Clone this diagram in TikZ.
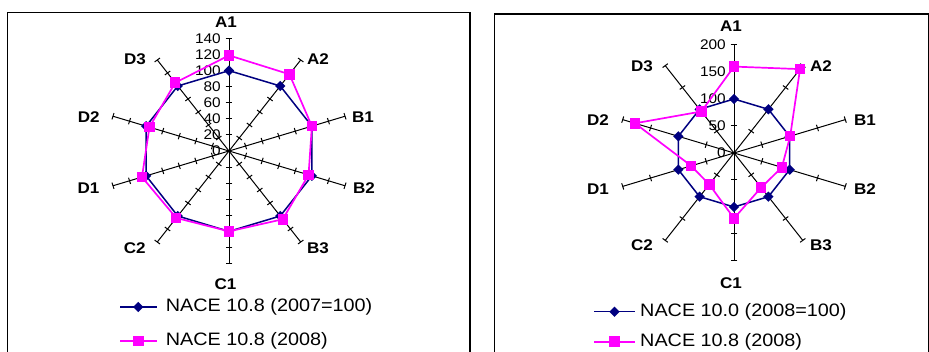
\documentclass[tikz,border=0pt]{standalone}
\usepackage{fontspec}
\setmainfont[FakeStretch=1.1]{Liberation Sans}
\usetikzlibrary{shapes.geometric}
\definecolor{navyline}{RGB}{0,0,128}
\definecolor{pinkline}{RGB}{255,0,255}
\begin{document}
\begin{tikzpicture}[x=1pt,y=1pt,
  axis/.style={black,line width=1pt},
  frame/.style={black,line width=1.3pt},
  base/.style={navyline,line width=1.5pt,line join=round},
  cur/.style={pinkline,line width=1.7pt,line join=round},
  dmark/.style={diamond,fill=navyline,inner sep=0pt,minimum width=10.5pt,minimum height=10.5pt},
  smark/.style={rectangle,fill=pinkline,inner sep=0pt,minimum size=10.5pt},
  axlbl/.style={font=\fontsize{15.5}{15.5}\selectfont\bfseries,inner sep=0pt},
  numlbl/.style={font=\fontsize{14}{14}\selectfont,anchor=east,inner sep=0pt,xshift=-8pt},
  leglbl/.style={font=\fontsize{18}{18}\selectfont,anchor=west,inner sep=0pt}]
\useasboundingbox (0,0) rectangle (929,351);

% frames
\draw[frame] (7.3,-5) -- (7.3,338.7) -- (470,338.7) -- (470,-5);
\draw[frame] (494.3,-5) -- (494.3,337) -- (928.5,337) -- (928.5,-5);

% left chart
\begin{scope}[shift={(229,200)},x=0.8714pt,y=0.8036pt]
\foreach \a in {90,54,...,-234}{
  \draw[axis] (0,0) -- (\a:140);
  \foreach \r in {20,40,...,140}
    \draw[axis] (\a:\r) ++(\a+90:3.3pt) -- ++(\a-90:6.6pt);
}
\foreach \v in {0,20,...,140}
  \node[numlbl] (lnum\v) at (0,\v) {\v};
\draw[base] (90:100) \foreach \a in {54,18,...,-234}{ -- (\a:100)} -- cycle;
\foreach \i in {0,...,9}
  \node[dmark] (l07m\i) at ({90-36*\i}:100) {};
\draw[cur] (90:119) -- (54:118) -- (18:100) -- (-18:96) -- (-54:105) -- (-90:100)
  -- (-126:103) -- (-162:105) -- (-198:96) -- (-234:105) -- cycle;
\foreach \v [count=\i from 0] in {119,118,100,96,105,100,103,105,96,105}
  \node[smark] (l08m\i) at ({90-36*\i}:\v) {};
\end{scope}

\node[axlbl] (lA1) at (226,329.3) {A1};
\node[axlbl] (lA2) at (318,292) {A2};
\node[axlbl] (lB1) at (363,234) {B1};
\node[axlbl] (lB2) at (364,162.7) {B2};
\node[axlbl] (lB3) at (318,103.3) {B3};
\node[axlbl] (lC1) at (225.5,67) {C1};
\node[axlbl] (lC2) at (134.7,103.3) {C2};
\node[axlbl] (lD1) at (88.5,162.7) {D1};
\node[axlbl] (lD2) at (88.8,234) {D2};
\node[axlbl] (lD3) at (135,292) {D3};

% left legend
\coordinate (lk1) at (138.3,44);
\coordinate (lk2) at (138.3,10);
\draw[base] ([xshift=-18.3pt]lk1) -- ([xshift=18.3pt]lk1);
\node[dmark] (lkey1) at (lk1) {};
\node[leglbl] (ltxt1) at (165.7,44) {NACE 10.8 (2007=100)};
\draw[cur] ([xshift=-18.3pt]lk2) -- ([xshift=18.3pt]lk2);
\node[smark] (lkey2) at (lk2) {};
\node[leglbl] (ltxt2) at (165.7,10) {NACE 10.8 (2008)};

% right chart
\begin{scope}[shift={(734,198)},x=0.585pt,y=0.54pt]
\foreach \a in {90,54,...,-234}{
  \draw[axis] (0,0) -- (\a:200);
  \foreach \r in {50,100,...,200}
    \draw[axis] (\a:\r) ++(\a+90:3.3pt) -- ++(\a-90:6.6pt);
}
\foreach \v in {0,50,...,200}
  \node[numlbl] (rnum\v) at (0,\v) {\v};
\draw[base] (90:100) \foreach \a in {54,18,...,-234}{ -- (\a:100)} -- cycle;
\foreach \i in {0,...,9}
  \node[dmark] (r08m\i) at ({90-36*\i}:100) {};
\draw[cur] (90:160) -- (54:192) -- (18:101) -- (-18:86) -- (-54:79) -- (-90:121)
  -- (-126:72) -- (-162:77) -- (-198:178) -- (-234:95) -- cycle;
\foreach \v [count=\i from 0] in {160,192,101,86,79,121,72,77,178,95}
  \node[smark] (r10m\i) at ({90-36*\i}:\v) {};
\end{scope}

\node[axlbl] (rA1) at (731,325) {A1};
\node[axlbl] (rA2) at (821,285.3) {A2};
\node[axlbl] (rB1) at (865,231) {B1};
\node[axlbl] (rB2) at (865,162) {B2};
\node[axlbl] (rB3) at (821,106) {B3};
\node[axlbl] (rC1) at (731,68) {C1};
\node[axlbl] (rC2) at (642,106) {C2};
\node[axlbl] (rD1) at (598,162) {D1};
\node[axlbl] (rD2) at (598,231) {D2};
\node[axlbl] (rD3) at (642,285.3) {D3};

% right legend
\coordinate (rk1) at (614.5,39.3);
\coordinate (rk2) at (614.5,9.3);
\draw[base] ([xshift=-20.5pt]rk1) -- ([xshift=20.5pt]rk1);
\node[dmark] (rkey1) at (rk1) {};
\node[leglbl] (rtxt1) at (640,39.3) {NACE 10.0 (2008=100)};
\draw[cur] ([xshift=-20.5pt]rk2) -- ([xshift=20.5pt]rk2);
\node[smark] (rkey2) at (rk2) {};
\node[leglbl] (rtxt2) at (640,9.3) {NACE 10.8 (2008)};
\end{tikzpicture}
\end{document}
